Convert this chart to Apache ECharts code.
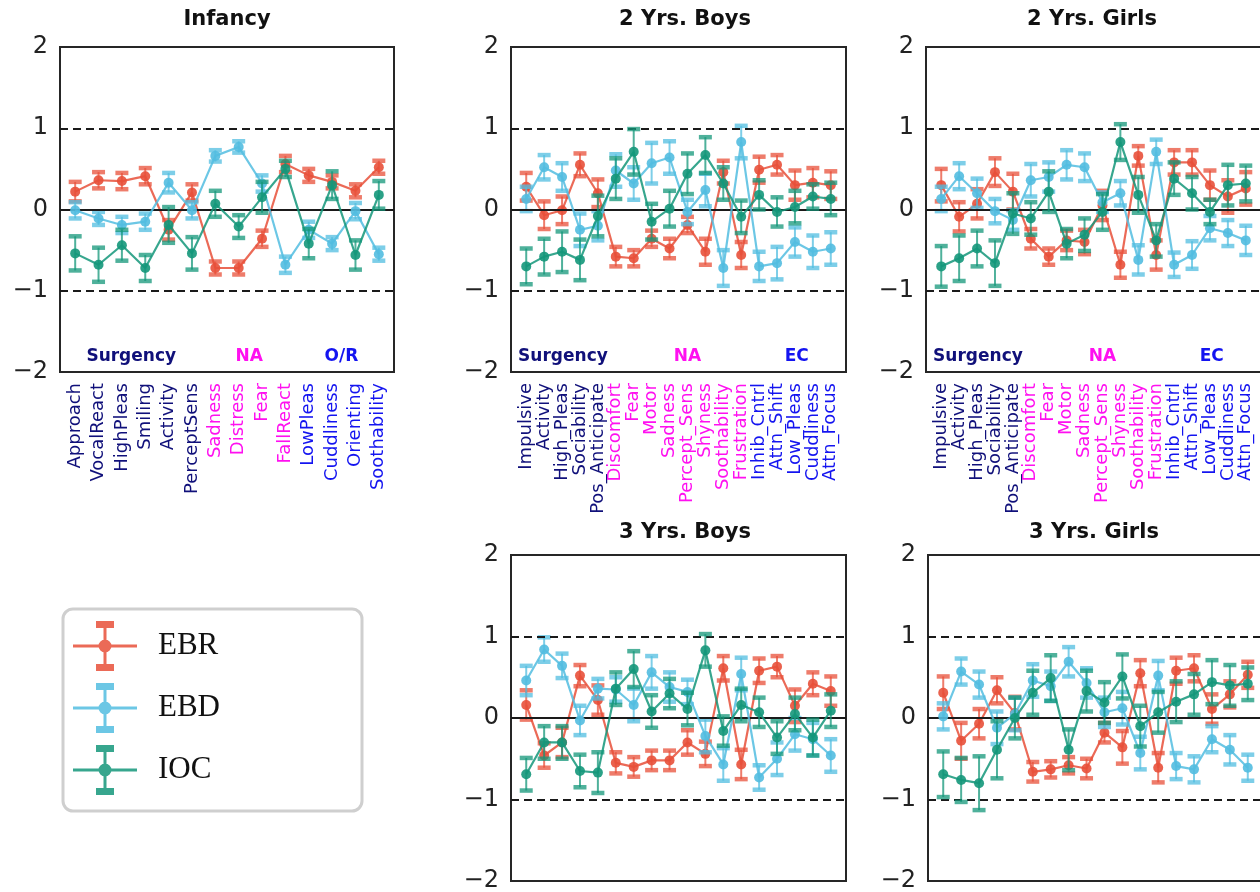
<!DOCTYPE html>
<html>
<head>
<meta charset="utf-8">
<title>Temperament profiles</title>
<script src="https://cdn.jsdelivr.net/npm/echarts@6/dist/echarts.min.js"></script>
<style>
html, body { margin: 0; padding: 0; background: #fff; }
#chart { width: 1260px; height: 892px; }
</style>
</head>
<body>
<div id="chart"></div>
<script>
// category names and their scale group (0 Surgency, 1 NA, 2 O/R or EC)
var infancyCats = ["Approach", "VocalReact", "HighPleas", "Smiling", "Activity", "PerceptSens",
  "Sadness", "Distress", "Fear", "FallReact", "LowPleas", "Cuddliness", "Orienting", "Soothability"];
var infancyGroups = [0, 0, 0, 0, 0, 0, 1, 1, 1, 1, 2, 2, 2, 2];
var toddlerCats = ["Impulsive", "Activity", "High_Pleas", "Sociability", "Pos_Anticipate", "Discomfort",
  "Fear", "Motor", "Sadness", "Percept_Sens", "Shyness", "Soothability", "Frustration", "Inhib_Cntrl",
  "Attn_Shift", "Low_Pleas", "Cuddliness", "Attn_Focus"];
var toddlerGroups = [0, 0, 0, 0, 0, 1, 1, 1, 1, 1, 1, 1, 1, 2, 2, 2, 2, 2];
var infancyTags = ["Surgency", "NA", "O/R"];
var toddlerTags = ["Surgency", "NA", "EC"];
var yTicks = [-2, -1, 0, 1, 2];

// Infancy
var infEBR = [0.22, 0.36, 0.35, 0.41, -0.25, 0.21, -0.72, -0.72, -0.36, 0.56, 0.42, 0.34, 0.23, 0.52];
var infEBRErr = [0.12, 0.1, 0.1, 0.1, 0.12, 0.1, 0.08, 0.08, 0.1, 0.1, 0.08, 0.08, 0.08, 0.08];
var infEBD = [-0.01, -0.11, -0.19, -0.15, 0.33, -0.01, 0.66, 0.77, 0.32, -0.68, -0.25, -0.42, -0.02, -0.55];
var infEBDErr = [0.1, 0.08, 0.1, 0.1, 0.12, 0.1, 0.07, 0.07, 0.1, 0.1, 0.1, 0.08, 0.1, 0.08];
var infIOC = [-0.54, -0.68, -0.44, -0.72, -0.19, -0.54, 0.07, -0.21, 0.15, 0.5, -0.42, 0.3, -0.56, 0.18];
var infIOCErr = [0.21, 0.21, 0.19, 0.16, 0.22, 0.2, 0.16, 0.14, 0.19, 0.1, 0.18, 0.17, 0.18, 0.17];

// 2 Yrs. Boys
var b2EBR = [0.28, -0.07, -0.01, 0.55, 0.2, -0.58, -0.6, -0.36, -0.48, -0.19, -0.52, 0.46, -0.56, 0.49, 0.55, 0.3, 0.33, 0.3];
var b2EBRErr = [0.17, 0.17, 0.17, 0.14, 0.17, 0.12, 0.1, 0.1, 0.12, 0.1, 0.16, 0.14, 0.16, 0.16, 0.12, 0.18, 0.18, 0.17];
var b2EBD = [0.13, 0.52, 0.4, -0.25, -0.2, 0.48, 0.32, 0.57, 0.64, -0.03, 0.24, -0.72, 0.83, -0.7, -0.66, -0.4, -0.52, -0.48];
var b2EBDErr = [0.15, 0.15, 0.17, 0.2, 0.18, 0.2, 0.2, 0.25, 0.2, 0.15, 0.2, 0.22, 0.2, 0.18, 0.2, 0.18, 0.2, 0.2];
var b2IOC = [-0.7, -0.58, -0.52, -0.62, -0.08, 0.38, 0.71, -0.15, 0.01, 0.44, 0.67, 0.32, -0.09, 0.18, -0.03, 0.03, 0.16, 0.13];
var b2IOCErr = [0.22, 0.22, 0.25, 0.25, 0.25, 0.25, 0.28, 0.22, 0.22, 0.25, 0.22, 0.2, 0.2, 0.18, 0.18, 0.2, 0.15, 0.2];

// 2 Yrs. Girls
var g2EBR = [0.3, -0.09, 0.07, 0.46, 0.22, -0.36, -0.58, -0.38, -0.4, 0.05, -0.68, 0.66, -0.56, 0.58, 0.58, 0.3, 0.16, 0.26];
var g2EBRErr = [0.2, 0.18, 0.18, 0.17, 0.22, 0.12, 0.1, 0.12, 0.15, 0.18, 0.16, 0.12, 0.18, 0.15, 0.15, 0.18, 0.2, 0.2];
var g2EBD = [0.13, 0.41, 0.2, -0.02, -0.13, 0.36, 0.4, 0.55, 0.52, 0.09, 0.2, -0.62, 0.71, -0.68, -0.56, -0.23, -0.29, -0.38];
var g2EBDErr = [0.15, 0.16, 0.18, 0.15, 0.12, 0.2, 0.18, 0.18, 0.17, 0.12, 0.15, 0.18, 0.15, 0.15, 0.17, 0.15, 0.16, 0.18];
var g2IOC = [-0.7, -0.6, -0.48, -0.66, -0.05, -0.11, 0.22, -0.42, -0.31, -0.03, 0.83, 0.18, -0.38, 0.38, 0.2, -0.03, 0.3, 0.32];
var g2IOCErr = [0.25, 0.28, 0.22, 0.28, 0.25, 0.2, 0.25, 0.18, 0.2, 0.22, 0.22, 0.22, 0.2, 0.2, 0.2, 0.15, 0.25, 0.22];

// 3 Yrs. Boys
var b3EBR = [0.16, -0.46, -0.3, 0.52, 0.22, -0.55, -0.6, -0.52, -0.52, -0.3, -0.44, 0.61, -0.57, 0.58, 0.63, 0.15, 0.42, 0.33];
var b3EBRErr = [0.18, 0.15, 0.18, 0.13, 0.18, 0.13, 0.12, 0.12, 0.12, 0.15, 0.15, 0.15, 0.18, 0.15, 0.13, 0.2, 0.14, 0.18];
var b3EBD = [0.46, 0.84, 0.64, -0.03, 0.36, 0.35, 0.16, 0.56, 0.38, 0.32, -0.22, -0.57, 0.54, -0.73, -0.5, -0.2, -0.26, -0.46];
var b3EBDErr = [0.18, 0.15, 0.15, 0.18, 0.12, 0.15, 0.2, 0.2, 0.18, 0.15, 0.2, 0.2, 0.2, 0.15, 0.2, 0.2, 0.2, 0.2];
var b3IOC = [-0.69, -0.3, -0.3, -0.65, -0.67, 0.36, 0.6, 0.08, 0.3, 0.11, 0.83, -0.16, 0.16, 0.07, -0.24, 0.05, -0.24, 0.09];
var b3IOCErr = [0.2, 0.2, 0.2, 0.2, 0.25, 0.2, 0.22, 0.2, 0.18, 0.2, 0.2, 0.18, 0.2, 0.18, 0.2, 0.2, 0.22, 0.2];

// 3 Yrs. Girls
var g3EBR = [0.31, -0.28, -0.07, 0.34, 0.06, -0.66, -0.63, -0.58, -0.62, -0.18, -0.36, 0.55, -0.61, 0.58, 0.61, 0.11, 0.29, 0.53];
var g3EBRErr = [0.2, 0.22, 0.18, 0.16, 0.2, 0.12, 0.1, 0.1, 0.12, 0.12, 0.2, 0.16, 0.18, 0.16, 0.16, 0.18, 0.16, 0.16];
var g3EBD = [0.02, 0.57, 0.41, -0.12, 0.05, 0.46, 0.39, 0.69, 0.43, 0.07, 0.12, -0.43, 0.52, -0.59, -0.63, -0.26, -0.39, -0.61];
var g3EBDErr = [0.16, 0.16, 0.16, 0.2, 0.2, 0.2, 0.18, 0.18, 0.18, 0.18, 0.2, 0.2, 0.18, 0.16, 0.16, 0.16, 0.18, 0.16];
var g3IOC = [-0.69, -0.76, -0.8, -0.39, 0.0, 0.31, 0.49, -0.39, 0.33, 0.19, 0.51, -0.1, 0.07, 0.2, 0.29, 0.44, 0.4, 0.42];
var g3IOCErr = [0.28, 0.27, 0.33, 0.35, 0.25, 0.27, 0.28, 0.25, 0.25, 0.25, 0.27, 0.25, 0.25, 0.25, 0.25, 0.27, 0.25, 0.2];

var groupColors = ["#10107a", "#ff10f0", "#1414f0"];
var traits = [
  { name: "EBR", color: "#e8503a" },
  { name: "EBD", color: "#52bde0" },
  { name: "IOC", color: "#14977a" }
];

// layout of the five panels
var panels = [
  { title: "Infancy", cats: infancyCats, groups: infancyGroups, vals: [infEBR, infEBD, infIOC], errs: [infEBRErr, infEBDErr, infIOCErr],
    left: 60, top: 47, width: 334, height: 325, pad: 0.65, titleX: 227, titleY: 20, tags: infancyTags, tagX: [2.4, 7.45, 11.4] },
  { title: "2 Yrs. Boys", cats: toddlerCats, groups: toddlerGroups, vals: [b2EBR, b2EBD, b2IOC], errs: [b2EBRErr, b2EBDErr, b2IOCErr],
    left: 511, top: 47, width: 335, height: 325, pad: 0.85, titleX: 685, titleY: 20, tags: toddlerTags, tagX: [2.05, 9.0, 15.1] },
  { title: "2 Yrs. Girls", cats: toddlerCats, groups: toddlerGroups, vals: [g2EBR, g2EBD, g2IOC], errs: [g2EBRErr, g2EBDErr, g2IOCErr],
    left: 926, top: 47, width: 335, height: 325, pad: 0.85, titleX: 1092, titleY: 20, tags: toddlerTags, tagX: [2.05, 9.0, 15.1] },
  { title: "3 Yrs. Boys", cats: toddlerCats, groups: toddlerGroups, vals: [b3EBR, b3EBD, b3IOC], errs: [b3EBRErr, b3EBDErr, b3IOCErr],
    left: 511, top: 555, width: 335, height: 326, pad: 0.85, titleX: 685, titleY: 533, tags: null },
  { title: "3 Yrs. Girls", cats: toddlerCats, groups: toddlerGroups, vals: [g3EBR, g3EBD, g3IOC], errs: [g3EBRErr, g3EBDErr, g3IOCErr],
    left: 928, top: 555, width: 335, height: 326, pad: 0.85, titleX: 1094, titleY: 533, tags: null }
];

function renderErrorBar(params, api) {
  var x = api.value(0);
  var lo = api.coord([x, api.value(1)]);
  var hi = api.coord([x, api.value(2)]);
  var color = api.visual("color");
  var half = 6.5;
  return {
    type: "group",
    children: [
      { type: "line", shape: { x1: lo[0], y1: lo[1], x2: hi[0], y2: hi[1] }, style: { stroke: color, lineWidth: 2, opacity: 0.75 } },
      { type: "line", shape: { x1: lo[0] - half, y1: lo[1], x2: lo[0] + half, y2: lo[1] }, style: { stroke: color, lineWidth: 4.5, opacity: 0.75 } },
      { type: "line", shape: { x1: hi[0] - half, y1: hi[1], x2: hi[0] + half, y2: hi[1] }, style: { stroke: color, lineWidth: 4.5, opacity: 0.75 } }
    ]
  };
}

var refLines = {
  silent: true,
  symbol: ["none", "none"],
  label: { show: false },
  emphasis: { disabled: true },
  data: [
    { yAxis: 1, lineStyle: { type: [8, 5], color: "#1a1a1a", width: 2.2 } },
    { yAxis: 0, lineStyle: { type: "solid", color: "#1a1a1a", width: 2.2 } },
    { yAxis: -1, lineStyle: { type: [8, 5], color: "#1a1a1a", width: 2.2 } }
  ]
};

var labelRich = {};
groupColors.forEach(function (c, i) {
  labelRich["g" + i] = { color: c, fontFamily: "DejaVu Sans", fontSize: 18 };
});

var grids = [], xAxes = [], yAxes = [], series = [], graphics = [];

panels.forEach(function (p, k) {
  var n = p.cats.length;
  grids.push({
    left: p.left, top: p.top, width: p.width, height: p.height,
    show: true, borderColor: "#262626", borderWidth: 2, backgroundColor: "transparent",
    containLabel: false, outerBoundsMode: "none"
  });
  xAxes.push({
    gridIndex: k, type: "value", min: -p.pad, max: n - 1 + p.pad,
    axisLine: { show: false }, axisTick: { show: false }, splitLine: { show: false },
    axisLabel: {
      customValues: p.cats.map(function (c, i) { return i; }),
      rotate: 90, margin: 11,
      formatter: function (v) {
        var i = Math.round(v);
        return "{g" + p.groups[i] + "|" + p.cats[i] + "}";
      },
      rich: labelRich
    }
  });
  yAxes.push({
    gridIndex: k, type: "value", min: -2, max: 2, interval: 1,
    axisLine: { show: false }, axisTick: { show: false }, splitLine: { show: false },
    axisLabel: {
      customValues: yTicks, margin: 12, fontFamily: "DejaVu Sans", fontSize: 24, color: "#222",
      formatter: function (v) { return v < 0 ? "\u2212" + Math.abs(v) : String(v); }
    }
  });

  traits.forEach(function (t, j) {
    var vals = p.vals[j], errs = p.errs[j];
    series.push({
      name: t.name, type: "custom", xAxisIndex: k, yAxisIndex: k,
      renderItem: renderErrorBar, itemStyle: { color: t.color },
      encode: { x: 0, y: [1, 2] }, z: 2 + j * 2, silent: true,
      data: vals.map(function (v, i) { return [i, v - errs[i], v + errs[i]]; })
    });
    series.push({
      name: t.name, type: "line", xAxisIndex: k, yAxisIndex: k,
      data: vals.map(function (v, i) { return [i, v]; }),
      symbol: "circle", symbolSize: 10, z: 3 + j * 2, silent: true,
      lineStyle: { color: t.color, width: 2.2, opacity: 0.85 },
      itemStyle: { color: t.color, opacity: 0.9 },
      emphasis: { disabled: true },
      markLine: j === 0 ? refLines : undefined
    });
  });

  if (p.tags) {
    series.push({
      type: "scatter", xAxisIndex: k, yAxisIndex: k, symbolSize: 0, silent: true, z: 10,
      itemStyle: { opacity: 1 },
      data: p.tags.map(function (tag, i) {
        return { name: tag, value: [p.tagX[i], -1.81], label: { color: groupColors[i] } };
      }),
      label: {
        show: true, position: "inside", formatter: "{b}", opacity: 1,
        fontFamily: "DejaVu Sans", fontWeight: "bold", fontSize: 17
      }
    });
  }

  graphics.push({
    type: "text", x: p.titleX, y: p.titleY, silent: true,
    style: { text: p.title, textAlign: "center", textVerticalAlign: "middle",
      fontFamily: "DejaVu Sans", fontWeight: "bold", fontSize: 21, fill: "#111" }
  });
});

var legendIcon = "path://M0,23.5H64V26.5H0Z M30.5,4H33.5V46H30.5Z M23,0H41V7H23Z M23,43H41V50H23Z " +
  "M38.5,25A6.5,6.5 0 1,1 25.5,25A6.5,6.5 0 1,1 38.5,25Z";

var chart = echarts.init(document.getElementById("chart"));
chart.setOption({
  animation: false,
  backgroundColor: "#fff",
  grid: grids,
  xAxis: xAxes,
  yAxis: yAxes,
  series: series,
  graphic: graphics,
  legend: {
    orient: "vertical", left: 63, top: 609,
    selectedMode: false,
    itemWidth: 64, itemHeight: 50, itemGap: 12,
    padding: [12, 142, 16, 10],
    borderColor: "#cfcfcf", borderWidth: 3, borderRadius: 10,
    textStyle: { fontFamily: "Liberation Serif", fontSize: 31, color: "#111", padding: [0, 0, 0, 16] },
    data: traits.map(function (t) {
      return { name: t.name, icon: legendIcon, itemStyle: { color: t.color, opacity: 0.85 } };
    })
  }
});
</script>
</body>
</html>
